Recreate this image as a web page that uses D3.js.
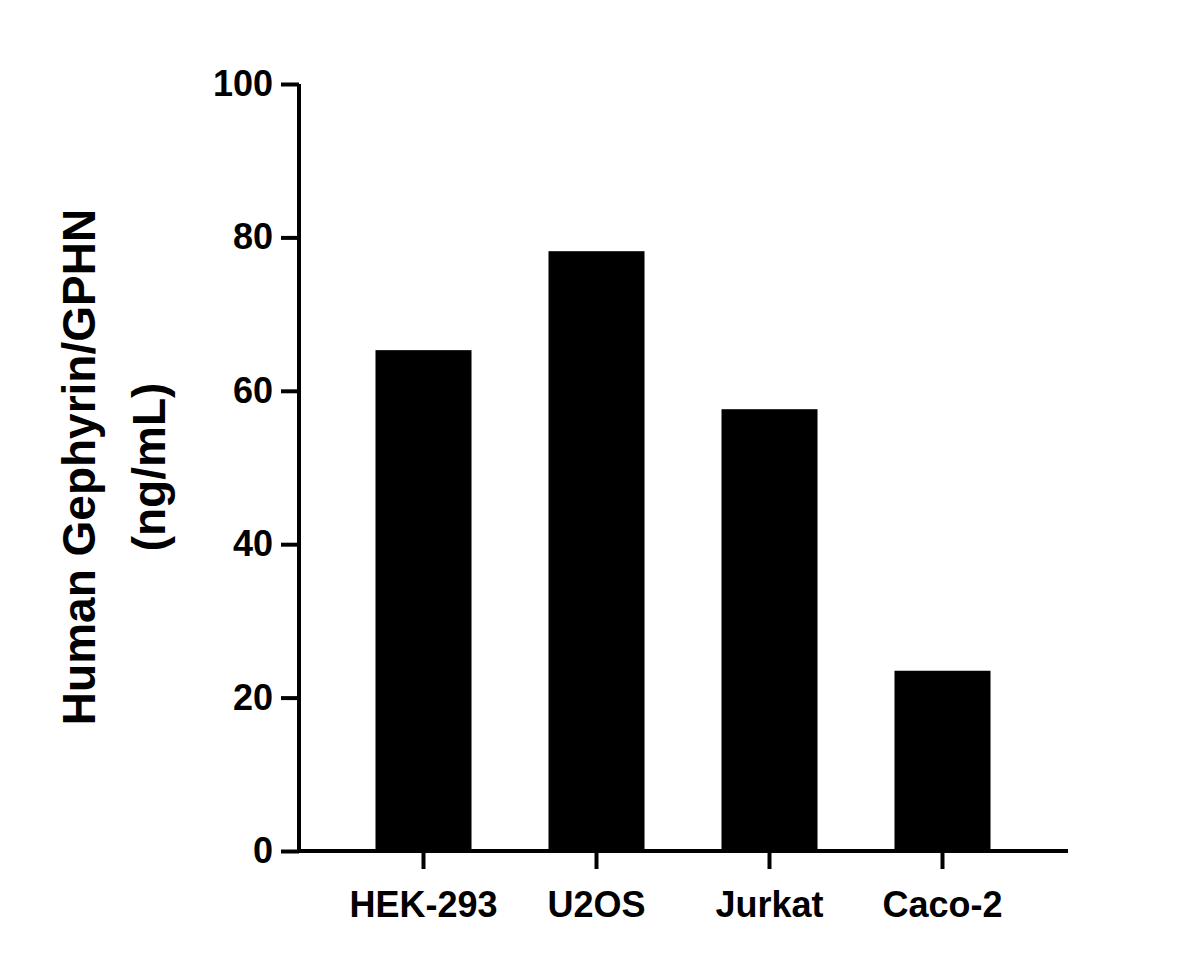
<!DOCTYPE html>
<html><head><meta charset="utf-8">
<script src="https://cdn.jsdelivr.net/npm/d3@7"></script>
<style>body{margin:0;background:#fff}text{font-family:"Liberation Sans",Arial,sans-serif;font-weight:bold}</style>
</head><body>
<script>
// data
const cells = ["HEK-293", "U2OS", "Jurkat", "Caco-2"];
const values = [65.3, 78.2, 57.6, 23.5];
const yTicks = [0, 20, 40, 60, 80, 100];

const svg = d3.select("body").append("svg").attr("width", 1200).attr("height", 968);
const y = d3.scaleLinear().domain([0, 100]).range([851, 84]);
const x = d3.scaleBand().domain(cells).range([337, 1029]).paddingInner(0.445).paddingOuter(0.2225);

svg.selectAll("rect").data(cells).enter().append("rect")
  .attr("x", d => x(d)).attr("width", x.bandwidth())
  .attr("y", (d, i) => y(values[i])).attr("height", (d, i) => 851 - y(values[i]))
  .attr("fill", "#000");

// y axis
const ya = svg.append("g").attr("transform", "translate(299,0)")
  .call(d3.axisLeft(y).tickValues(yTicks).tickSize(18).tickPadding(8));
ya.select(".domain").attr("d", "M0,84V853").attr("stroke-width", 4);
ya.selectAll(".tick line").attr("stroke-width", 4);
ya.selectAll("text").attr("font-size", 36).attr("fill", "#000");

// x axis
const xa = svg.append("g").attr("transform", "translate(0,851)")
  .call(d3.axisBottom(x).tickSize(18).tickPadding(22));
xa.select(".domain").attr("d", "M297,0H1068").attr("stroke-width", 4);
xa.selectAll(".tick line").attr("stroke-width", 4);
xa.selectAll("text").attr("font-size", 36).attr("fill", "#000");

// title
const t = svg.append("text").attr("transform", "translate(95,467) rotate(-90)")
  .attr("text-anchor", "middle").attr("font-size", 46);
t.append("tspan").attr("x", 0).attr("dy", 0).text("Human Gephyrin/GPHN");
t.append("tspan").attr("x", 0).attr("dy", 70).text("(ng/mL)");
</script>
</body></html>
